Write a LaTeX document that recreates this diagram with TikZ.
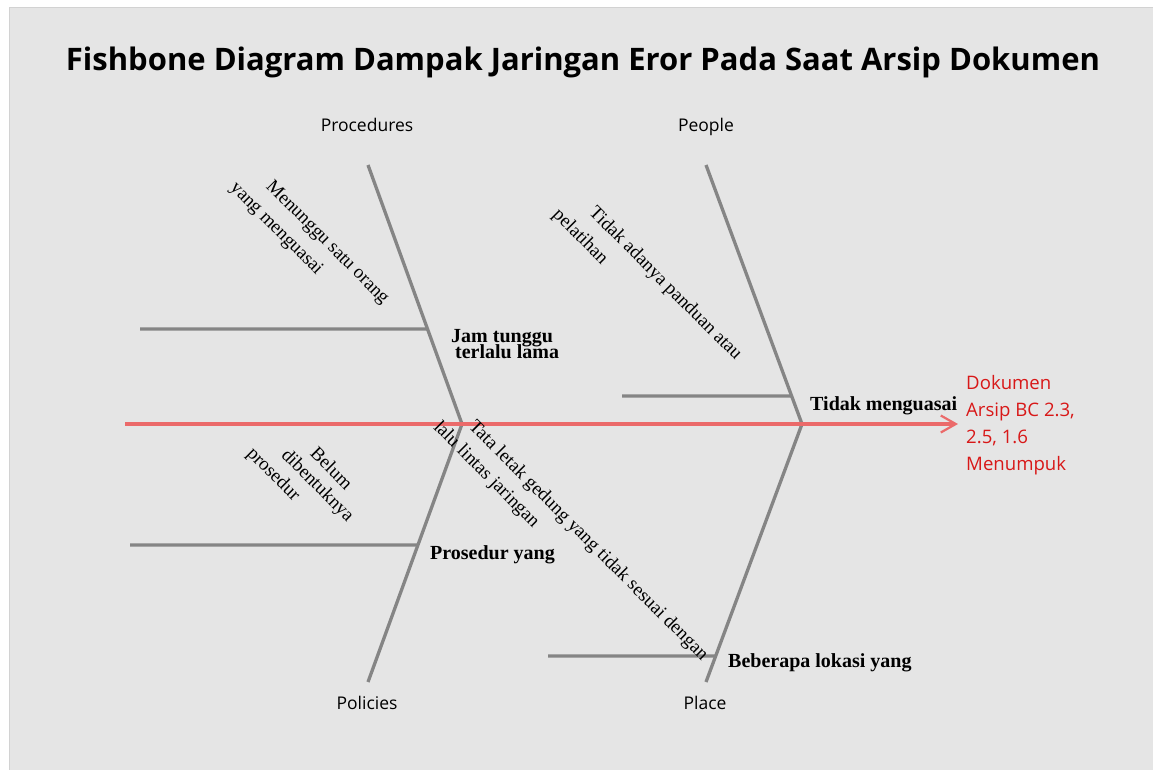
\documentclass[tikz,border=0pt]{standalone}
\usepackage{fontspec}
\setmainfont{Liberation Serif}
\newfontfamily\uisans{Open Sans}
\usetikzlibrary{arrows.meta,calc}
\definecolor{panel}{HTML}{E5E5E5}
\definecolor{panelline}{HTML}{D2D2D2}
\definecolor{bonegray}{HTML}{858585}
\definecolor{spinered}{HTML}{EB6A6A}
\definecolor{effectred}{HTML}{D81818}
\begin{document}
\begin{tikzpicture}[x=1pt,y=-1pt,
  bone/.style={bonegray, line width=3.3pt},
  spine/.style={spinered, line width=3.3pt, -{Straight Barb[length=15pt,width=17pt,line width=2.2pt]}},
  cat/.style={font=\uisans\fontsize{17.5}{20}\selectfont, inner sep=0, anchor=base},
  cause/.style={font=\bfseries\fontsize{20}{20}\selectfont, anchor=base west, inner sep=0},
  sub/.style={font=\fontsize{19}{22}\selectfont, rotate=-45, inner sep=0},
  titlestyle/.style={font=\uisans\bfseries\fontsize{31}{36}\selectfont, inner sep=0, anchor=base},
  effect/.style={font=\uisans\fontsize{18.6}{27}\selectfont, text=effectred, align=left, anchor=north west, inner sep=0}
  ]
\useasboundingbox (0,0) rectangle (1153,769);
\fill[white] (0,0) rectangle (1153,769);
\filldraw[fill=panel, draw=panelline, line width=0.8pt] (9,7) rectangle (1155,771);

% title
\node[titlestyle] (title) at (583,70) {Fishbone Diagram Dampak Jaringan Eror Pada Saat Arsip Dokumen};

% coordinates of the skeleton
\coordinate (tail) at (125,424);
\coordinate (head) at (958,424);
\coordinate (j1) at (462,424);
\coordinate (j2) at (802,424);
\coordinate (procTop) at (368,165);
\coordinate (polBot) at (368,682);
\coordinate (peoTop) at (706,165);
\coordinate (plaBot) at (706,682);

% category labels
\node[cat] (procedures) at (367,131) {Procedures};
\node[cat] (people) at (706,131) {People};
\node[cat] (policies) at (367,709) {Policies};
\node[cat] (place) at (705,709) {Place};

% main bones
\draw[bone] (procTop) -- (j1) -- (polBot);
\draw[bone] (peoTop) -- (j2) -- (plaBot);

% sub bones
\coordinate (s1a) at (140,329);  \coordinate (s1b) at ($(procTop)!{(329-165)/259}!(j1)$);
\coordinate (s2a) at (622,396);  \coordinate (s2b) at ($(peoTop)!{(396-165)/259}!(j2)$);
\coordinate (s3a) at (130,545);  \coordinate (s3b) at ($(j1)!{(545-424)/258}!(polBot)$);
\coordinate (s4a) at (548,656);  \coordinate (s4b) at ($(j2)!{(656-424)/258}!(plaBot)$);
\draw[bone] (s1a) -- (s1b);
\draw[bone] (s2a) -- (s2b);
\draw[bone] (s3a) -- (s3b);
\draw[bone] (s4a) -- (s4b);

% spine
\draw[spine] (tail) -- (head);

% cause labels
\node[cause] (jam1) at (451,342) {Jam tunggu};
\node[cause] (jam2) at (455,358) {terlalu lama};
\node[cause] (tidak) at (810,410) {Tidak menguasai};
\node[cause] (prosedur) at (430,559) {Prosedur yang};
\node[cause] (beberapa) at (728,667) {Beberapa lokasi yang};

% sub-cause labels
\node[sub] (m1) at (327,243) {Menunggu satu orang};
\node[sub] (m2) at (276,229) {yang menguasai};
\node[sub] (t1) at (665,284) {Tidak adanya panduan atau};
\node[sub] (t2) at (580,237) {pelatihan};
\node[sub] (b1) at (332,468) {Belum};
\node[sub] (b2) at (317,486) {dibentuknya};
\node[sub] (b3) at (273,475) {prosedur};
\node[sub] (g1) at (588,541) {Tata letak gedung yang tidak sesuai dengan};
\node[sub] (g2) at (486,475) {lalu lintas jaringan};

% effect
\node[effect] (effect) at (966,375) {Dokumen\\Arsip BC 2.3,\\2.5, 1.6\\Menumpuk};
\end{tikzpicture}
\end{document}
